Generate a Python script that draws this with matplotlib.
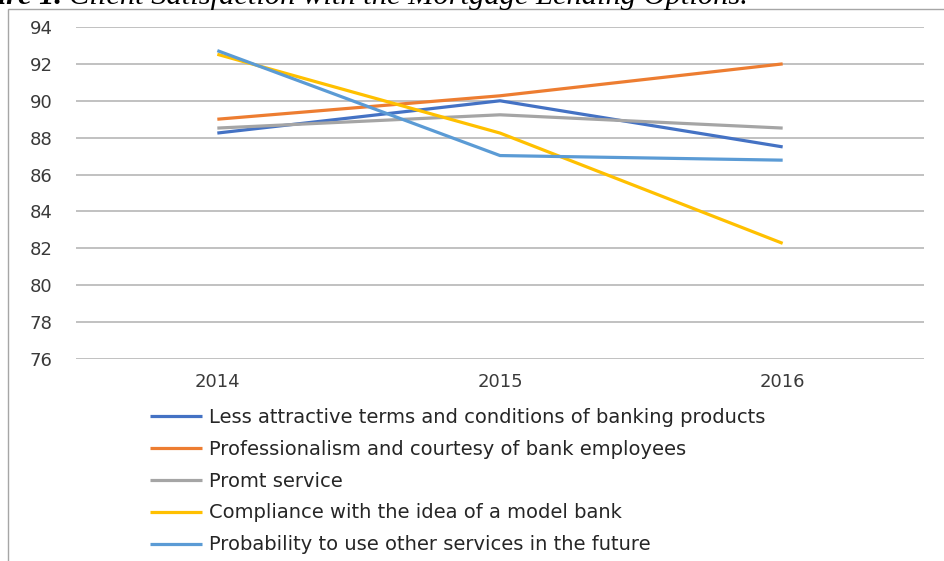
import matplotlib
matplotlib.use("Agg")
import matplotlib.pyplot as plt
from matplotlib.patches import Rectangle

years = ["2014", "2015", "2016"]
less_attractive = [88.25, 90.0, 87.5]
professionalism = [89.0, 90.27, 92.0]
promt_service = [88.52, 89.24, 88.52]
compliance = [92.52, 88.25, 82.27]
probability = [92.72, 87.03, 86.78]
series_labels = [
    "Less attractive terms and conditions of banking products",
    "Professionalism and courtesy of bank employees",
    "Promt service",
    "Compliance with the idea of a model bank",
    "Probability to use other services in the future",
]
colors = ["#4472C4", "#ED7D31", "#A5A5A5", "#FFC000", "#5B9BD5"]
yticks = [76, 78, 80, 82, 84, 86, 88, 90, 92, 94]

W, H = 945, 561
fig = plt.figure(figsize=(W / 100, H / 100), dpi=100)

def fx(px):
    return px / W

def fy(py):
    return 1 - py / H

# chart border
fig.patches.append(Rectangle((fx(8), -0.1), 1.2, fy(9) + 0.1, transform=fig.transFigure,
                             fill=False, edgecolor="#a6a6a6", lw=1.0, clip_on=False))

ax = fig.add_axes([fx(76), fy(359), fx(924) - fx(76), fy(27) - fy(359)])
x = list(range(len(years)))
for vals, lab, c in zip([less_attractive, professionalism, promt_service, compliance, probability],
                        series_labels, colors):
    ax.plot(x, vals, color=c, lw=2.3, label=lab, solid_capstyle="butt")

ax.set_xlim(-0.5, len(years) - 0.5)
ax.set_ylim(76, 94)
ax.set_yticks(yticks)
ax.set_xticks(x)
ax.set_xticklabels(years)
ax.grid(axis="y", color="#bcbcbc", lw=1.3)
ax.set_axisbelow(True)
for s in ax.spines.values():
    s.set_visible(False)
ax.tick_params(axis="both", length=0, labelsize=13, labelcolor="#3a3a3a")
ax.tick_params(axis="y", pad=17)
ax.tick_params(axis="x", pad=10)
for t in ax.get_yticklabels() + ax.get_xticklabels():
    t.set_fontfamily("DejaVu Sans")

leg = fig.legend(loc="upper left", bbox_to_anchor=(fx(150), fy(408)), frameon=False,
                 prop={"family": "DejaVu Sans", "size": 14}, handlelength=2.68,
                 handletextpad=0.36, labelspacing=0.66, borderaxespad=0, borderpad=0)
for t in leg.get_texts():
    t.set_color("#262626")

# title partially cut off at top
t1 = fig.text(fx(-18), fy(4), "Figure 1.", fontfamily="Liberation Serif", fontsize=17,
              fontweight="bold", fontstyle="italic", va="baseline", ha="left")
t2 = fig.text(fx(748), fy(4), "Client Satisfaction with the Mortgage Lending Options.",
              fontfamily="Liberation Serif", fontsize=17, fontstyle="italic",
              va="baseline", ha="right")
fig.canvas.draw()
r = fig.canvas.get_renderer()
bb = t2.get_window_extent(r)
scale = 681 / bb.width
t2.set_fontsize(17 * scale)
t1.set_fontsize(17 * scale)
fig.canvas.draw()
bb1 = t1.get_window_extent(r)
t1.set_x(fx(62 - bb1.width))

fig.savefig("out.png", dpi=100)
